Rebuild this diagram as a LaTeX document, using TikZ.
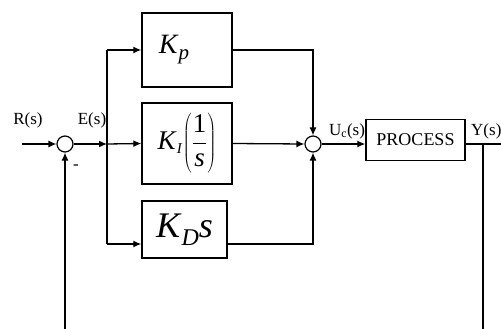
\documentclass[tikz,border=0pt]{standalone}
\usepackage{fontspec}
\setmainfont{Liberation Serif}
\usetikzlibrary{arrows.meta}
\begin{document}
\begin{tikzpicture}[x=1pt,y=-1pt,
  blk/.style={draw,line width=1.4pt,inner sep=0pt,minimum width=#1},
  sumc/.style={draw,circle,line width=1.2pt,minimum size=16pt,inner sep=0pt},
  wire/.style={line width=1.3pt},
  arr/.style={wire,-{Latex[length=8pt,width=7pt]}},
  lbl/.style={font=\fontsize{17}{19}\selectfont,inner sep=0pt}]
\useasboundingbox (0,0) rectangle (501,329);
% blocks
\node[blk=90pt,minimum height=74pt] (Kp) at (187,50)
  {\fontsize{28}{30}\selectfont\hspace*{-26pt}\textit{K}\raisebox{-6pt}{\fontsize{21}{22}\selectfont\textit{p}}};
\node[blk=90pt,minimum height=81pt] (KI) at (187,143.5)
  {\fontsize{27}{29}\selectfont$\displaystyle\mbox{\textit{K}}_{\mbox{\fontsize{15}{16}\selectfont\textit{I}}}\!\left(\vrule height 30pt depth 24pt width 0pt\frac{\mbox{1}}{\mbox{\textit{s}}}\right)$};
\node[blk=85pt,minimum height=57pt] (KD) at (184.5,229.5)
  {\fontsize{36}{38}\selectfont\textit{K}\raisebox{-8pt}{\fontsize{24}{26}\selectfont\textit{D}}\textit{s}};
\node[blk=99pt,minimum height=41pt] (P) at (415.5,140)
  {\fontsize{18}{20}\selectfont PROCESS};
% summing junctions
\node[sumc] (s1) at (65,144) {};
\node[sumc] (s2) at (313,144) {};
% coordinates
\coordinate (in) at (22,144);
\coordinate (br) at (107,144);
\coordinate (kdy) at (0,244);
\coordinate (out) at (501,144);
\coordinate (fb) at (483,144);
\coordinate (fbR) at (483,329);
\coordinate (fbL) at (65,329);
% labels
\node[lbl] (R) at (28,120) {R(s)};
\node[lbl] (E) at (92,120) {E(s)};
\node[lbl] (m) at (76,167) {-};
\node[lbl] (U) at (347,131) {U\textsubscript{c}(s)};
\node[lbl,anchor=west] (Y) at (471,131) {Y(s)};
% connectors
\draw[arr] (in) -- (s1.west);
\draw[arr] (s1.east) -- (br);
\draw[wire] (br |- Kp.west) -- (br |- kdy);
\draw[arr] (br |- Kp.west) -- (Kp.west);
\draw[arr] (br) -- (KI.west);
\draw[arr] (br |- kdy) -- (KD.west |- kdy);
\draw[arr] (Kp.east) -| (s2.north);
\draw[arr] (KI.east) -- (s2.west);
\draw[arr] (KD.east |- kdy) -| (s2.south);
\draw[arr] (s2.east) -- (s2.east -| P.west);
\draw[wire] (P.east |- out) -- (out);
\draw[wire] (fb) -- (fbR);
\draw[arr] (fbL) -- (s1.south);
\end{tikzpicture}
\end{document}
